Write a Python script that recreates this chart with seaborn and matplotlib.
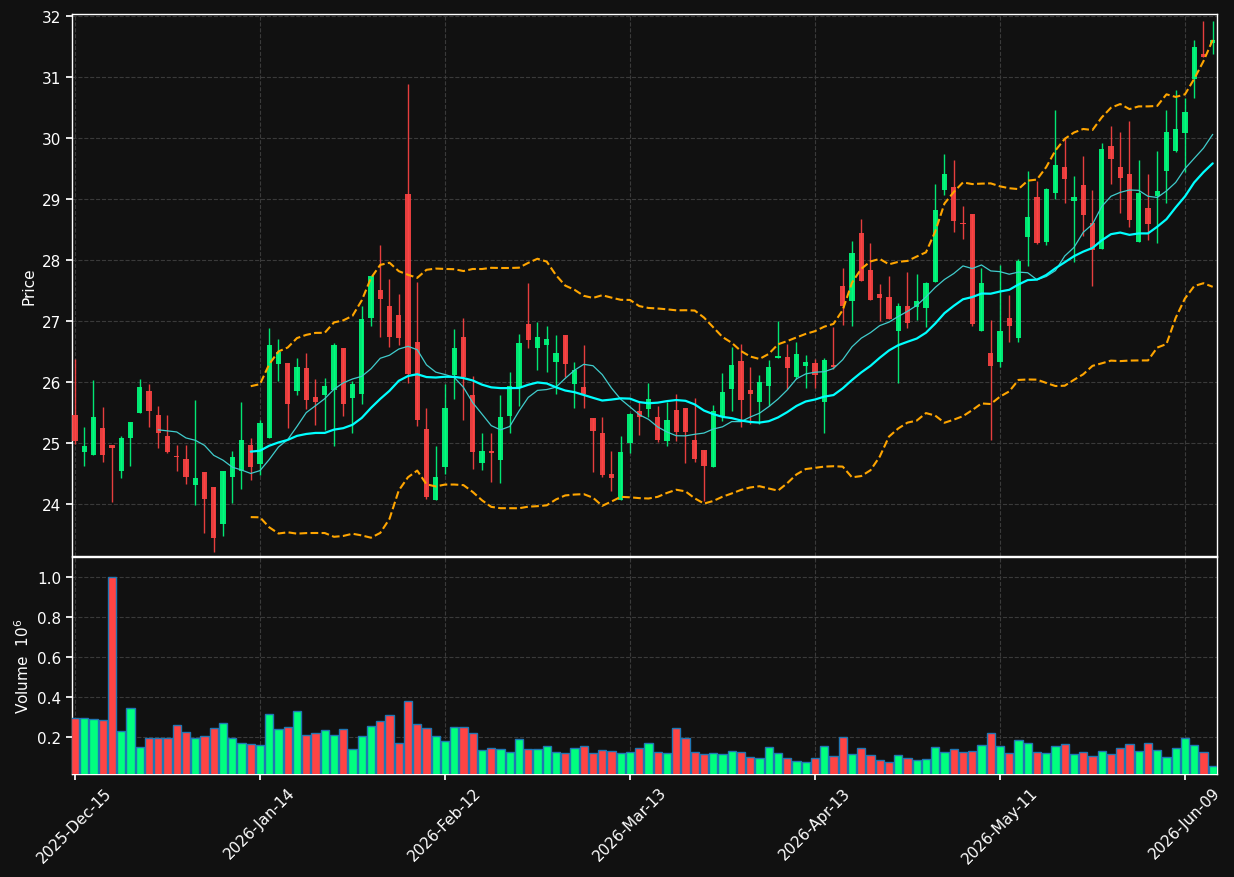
import numpy as np
import pandas as pd
import matplotlib
matplotlib.use('Agg')
import matplotlib.pyplot as plt
import seaborn as sns

# daily OHLC, one entry per trading day
opens = [25.46, 24.86, 24.81, 25.25, 24.97, 24.54, 25.08, 25.49, 25.86, 25.46,
         25.12, 24.79, 24.74, 24.31, 24.53, 24.28, 23.67, 24.44, 24.55, 24.97,
         24.65, 25.08, 26.30, 26.31, 25.86, 26.23, 25.75, 25.79, 25.87, 26.56,
         25.74, 25.80, 27.05, 27.51, 27.25, 27.09, 29.08, 26.65, 25.23, 24.07,
         24.61, 26.11, 26.74, 25.79, 24.68, 24.87, 24.73, 25.45, 25.92, 26.95,
         26.55, 26.60, 26.33, 26.77, 25.96, 25.92, 25.41, 25.16, 24.49, 24.07,
         25.00, 25.52, 25.56, 25.43, 25.03, 25.54, 25.57, 25.05, 24.89, 24.61,
         25.45, 25.89, 26.34, 25.87, 25.67, 25.94, 26.40, 26.41, 26.09, 26.27,
         26.31, 25.68, 26.28, 27.58, 27.33, 28.44, 27.84, 27.44, 27.40, 26.83,
         27.25, 27.23, 27.21, 27.64, 29.15, 29.20, 28.61, 28.75, 26.84, 26.48,
         26.32, 27.05, 26.72, 28.37, 29.03, 28.30, 29.10, 29.52, 28.96, 29.23,
         28.60, 28.18, 29.87, 29.52, 29.41, 28.30, 28.85, 29.04, 29.45, 29.79,
         30.08, 30.96, 31.38, 31.56]
highs = [26.38, 25.26, 26.03, 25.59, 24.97, 25.11, 25.34, 26.05, 25.97, 25.61,
         25.46, 24.97, 24.97, 25.71, 24.53, 24.28, 24.55, 24.87, 25.67, 25.08,
         25.37, 26.88, 26.70, 26.31, 26.40, 26.48, 26.05, 26.06, 26.64, 26.56,
         26.02, 27.25, 27.73, 28.25, 27.69, 27.44, 30.89, 27.64, 25.57, 24.96,
         25.96, 26.87, 27.05, 26.10, 25.16, 25.16, 25.79, 26.16, 26.79, 27.63,
         26.99, 26.91, 26.77, 26.77, 26.32, 26.61, 25.41, 25.42, 24.87, 25.11,
         25.50, 25.67, 25.98, 25.60, 25.67, 25.81, 25.57, 25.74, 24.89, 25.63,
         26.14, 26.57, 26.63, 26.24, 26.11, 26.36, 27.00, 26.63, 26.65, 26.45,
         26.38, 26.40, 26.90, 27.86, 28.31, 28.67, 28.27, 27.61, 27.73, 27.30,
         27.81, 27.77, 27.64, 29.25, 29.74, 29.64, 28.88, 28.75, 27.86, 27.02,
         27.92, 27.43, 28.01, 29.46, 29.30, 29.18, 30.45, 30.01, 29.38, 29.71,
         29.14, 29.91, 30.20, 30.09, 30.28, 29.63, 29.40, 29.79, 30.45, 30.79,
         30.66, 31.60, 31.92, 31.91]
lows = [24.99, 24.63, 24.80, 24.69, 24.03, 24.43, 24.62, 25.49, 25.26, 24.92,
        24.83, 24.54, 24.33, 23.99, 23.52, 23.21, 23.48, 24.02, 24.24, 24.39,
        24.48, 25.08, 26.02, 25.24, 25.78, 25.56, 25.30, 25.22, 24.95, 25.44,
        25.17, 25.64, 26.92, 26.73, 26.58, 26.60, 25.98, 25.28, 24.08, 24.07,
        24.49, 25.73, 25.38, 24.58, 24.56, 24.36, 24.34, 25.16, 25.60, 26.55,
        26.19, 26.16, 25.81, 26.09, 25.57, 25.58, 24.52, 24.45, 24.22, 24.07,
        24.84, 25.13, 25.43, 25.02, 24.96, 25.03, 24.68, 24.69, 24.05, 24.61,
        25.36, 25.52, 25.26, 25.31, 25.31, 25.61, 26.39, 25.89, 26.05, 25.90,
        25.90, 25.16, 26.22, 26.94, 26.91, 27.66, 27.34, 27.00, 27.03, 25.99,
        26.88, 27.02, 26.90, 27.64, 29.07, 28.46, 28.34, 26.91, 26.84, 25.05,
        26.25, 26.66, 26.65, 27.90, 28.26, 28.25, 29.00, 28.93, 27.96, 28.40,
        27.58, 28.18, 29.25, 28.77, 28.54, 28.30, 28.32, 28.27, 28.93, 29.77,
        29.44, 30.65, 31.33, 31.38]
closes = [25.03, 24.96, 25.42, 24.80, 24.92, 25.09, 25.34, 25.92, 25.52, 25.17,
          24.86, 24.78, 24.44, 24.42, 24.09, 23.45, 24.55, 24.78, 25.05, 24.60,
          25.33, 26.60, 26.49, 25.64, 26.24, 25.71, 25.68, 25.93, 26.60, 25.64,
          25.97, 27.03, 27.73, 27.36, 26.74, 26.72, 26.13, 25.37, 24.12, 24.45,
          25.58, 26.56, 26.09, 24.86, 24.87, 24.83, 25.43, 25.93, 26.64, 26.69,
          26.73, 26.70, 26.48, 26.30, 26.20, 25.80, 25.20, 24.48, 24.43, 24.86,
          25.48, 25.42, 25.72, 25.05, 25.38, 25.18, 25.18, 24.74, 24.63, 25.52,
          25.84, 26.28, 25.71, 25.81, 26.00, 26.25, 26.43, 26.23, 26.46, 26.32,
          26.12, 26.36, 26.24, 27.25, 28.11, 27.66, 27.34, 27.38, 27.03, 27.25,
          26.96, 27.33, 27.63, 28.81, 29.41, 28.63, 28.59, 26.95, 27.62, 26.27,
          26.84, 26.91, 27.98, 28.70, 28.27, 29.16, 29.56, 29.33, 29.03, 28.74,
          28.17, 29.81, 29.66, 29.34, 28.66, 29.10, 28.59, 29.13, 30.10, 30.14,
          30.43, 31.49, 31.33, 31.60]
# volume in millions
volumes = [0.294, 0.294, 0.289, 0.285, 1.000, 0.230, 0.344, 0.150, 0.195, 0.198,
           0.195, 0.260, 0.225, 0.195, 0.205, 0.245, 0.270, 0.198, 0.170, 0.165,
           0.160, 0.314, 0.240, 0.250, 0.329, 0.210, 0.220, 0.235, 0.210, 0.240,
           0.140, 0.205, 0.255, 0.280, 0.309, 0.170, 0.379, 0.265, 0.245, 0.205,
           0.180, 0.250, 0.250, 0.220, 0.135, 0.145, 0.140, 0.125, 0.190, 0.140,
           0.140, 0.155, 0.125, 0.120, 0.145, 0.155, 0.120, 0.135, 0.130, 0.120,
           0.125, 0.145, 0.170, 0.125, 0.120, 0.245, 0.195, 0.125, 0.115, 0.120,
           0.115, 0.130, 0.125, 0.100, 0.095, 0.150, 0.120, 0.095, 0.080, 0.075,
           0.095, 0.155, 0.105, 0.200, 0.115, 0.145, 0.110, 0.085, 0.075, 0.110,
           0.095, 0.085, 0.090, 0.150, 0.125, 0.140, 0.125, 0.130, 0.160, 0.220,
           0.155, 0.120, 0.185, 0.170, 0.125, 0.120, 0.155, 0.165, 0.115, 0.125,
           0.105, 0.130, 0.115, 0.145, 0.165, 0.130, 0.170, 0.135, 0.100, 0.145,
           0.195, 0.160, 0.125, 0.056]
tick_labels = ['2025-Dec-15', '2026-Jan-14', '2026-Feb-12', '2026-Mar-13',
               '2026-Apr-13', '2026-May-11', '2026-Jun-09']

BG = '#111111'
UP = '#00FF7F'
DOWN = '#FF4444'
GRID = '#3a3a3a'


def main():
    df = pd.DataFrame({'open': opens, 'high': highs, 'low': lows,
                       'close': closes, 'volume': volumes})
    df['idx'] = np.arange(len(df))
    df['ma10'] = df['close'].rolling(10).mean()
    df['ma20'] = df['close'].rolling(20).mean()
    std20 = df['close'].rolling(20).std()
    df['bb_up'] = df['ma20'] + 2 * std20
    df['bb_lo'] = df['ma20'] - 2 * std20
    colors = np.where(df['close'] >= df['open'], UP, DOWN)

    sns.set_theme(style='darkgrid', rc={
        'axes.facecolor': BG, 'figure.facecolor': BG,
        'axes.edgecolor': 'white', 'axes.labelcolor': 'white',
        'xtick.color': 'white', 'ytick.color': 'white',
        'grid.color': GRID, 'grid.linestyle': '--', 'grid.linewidth': 0.8,
        'xtick.bottom': True, 'ytick.left': True,
    })
    plt.rcParams['font.family'] = ['DejaVu Sans']

    fig = plt.figure(figsize=(12.34, 8.78), dpi=100, facecolor=BG)
    ax1 = fig.add_axes([0.0583, 0.3656, 0.9279, 0.6174])
    ax2 = fig.add_axes([0.0583, 0.1173, 0.9279, 0.2472], sharex=ax1)

    # candles: wicks then bodies
    ax1.vlines(df['idx'], df['low'], df['high'], colors=colors,
               linewidth=1, alpha=0.9, zorder=2)
    body = (df['close'] - df['open']).abs().clip(lower=0.01)
    ax1.bar(df['idx'], body, bottom=df[['open', 'close']].min(axis=1),
            width=0.55, color=colors, alpha=0.9, linewidth=0, zorder=3)

    # moving averages and bollinger bands
    sns.lineplot(data=df, x='idx', y='ma10', ax=ax1, color='#40CCCC',
                 linewidth=0.9, zorder=4)
    sns.lineplot(data=df, x='idx', y='ma20', ax=ax1, color='#00FFFF',
                 linewidth=1.6, zorder=4)
    for col in ['bb_up', 'bb_lo']:
        sns.lineplot(data=df, x='idx', y=col, ax=ax1, color='#FFA500',
                     linewidth=1.5, linestyle='--', zorder=4)

    ax1.set_ylim(df['low'].min() - 0.06, df['high'].max() + 0.11)
    ax1.set_yticks(range(24, 33))
    ax1.set_xlim(-0.33, len(df) - 0.54)
    ax1.set_ylabel('Price', fontsize=11)
    ax1.set_xlabel('')
    ax1.tick_params(axis='x', labelbottom=False)

    # volume panel
    ax2.bar(df['idx'], df['volume'], width=0.9, color=colors,
            edgecolor='#1f77b4', linewidth=1, zorder=3)
    ax2.set_ylim(0.3 * df['volume'].min(), 1.1 * df['volume'].max())
    ax2.set_yticks([0.2, 0.4, 0.6, 0.8, 1.0])
    ax2.set_ylabel('Volume  $10^{6}$', fontsize=11)
    ax2.set_xticks(range(0, len(df), 20))
    ax2.set_xticklabels(tick_labels, rotation=45, ha='center')
    ax2.set_xlabel('')

    for ax in (ax1, ax2):
        ax.grid(True, linestyle='--', color=GRID, linewidth=0.8)
        ax.set_axisbelow(True)
        for sp in ax.spines.values():
            sp.set_color('white')
            sp.set_linewidth(1)
        ax.tick_params(labelsize=11, length=4, direction='out', colors='white')

    fig.savefig('out.png', dpi=100, facecolor=BG)
    plt.close(fig)


if __name__ == '__main__':
    main()
